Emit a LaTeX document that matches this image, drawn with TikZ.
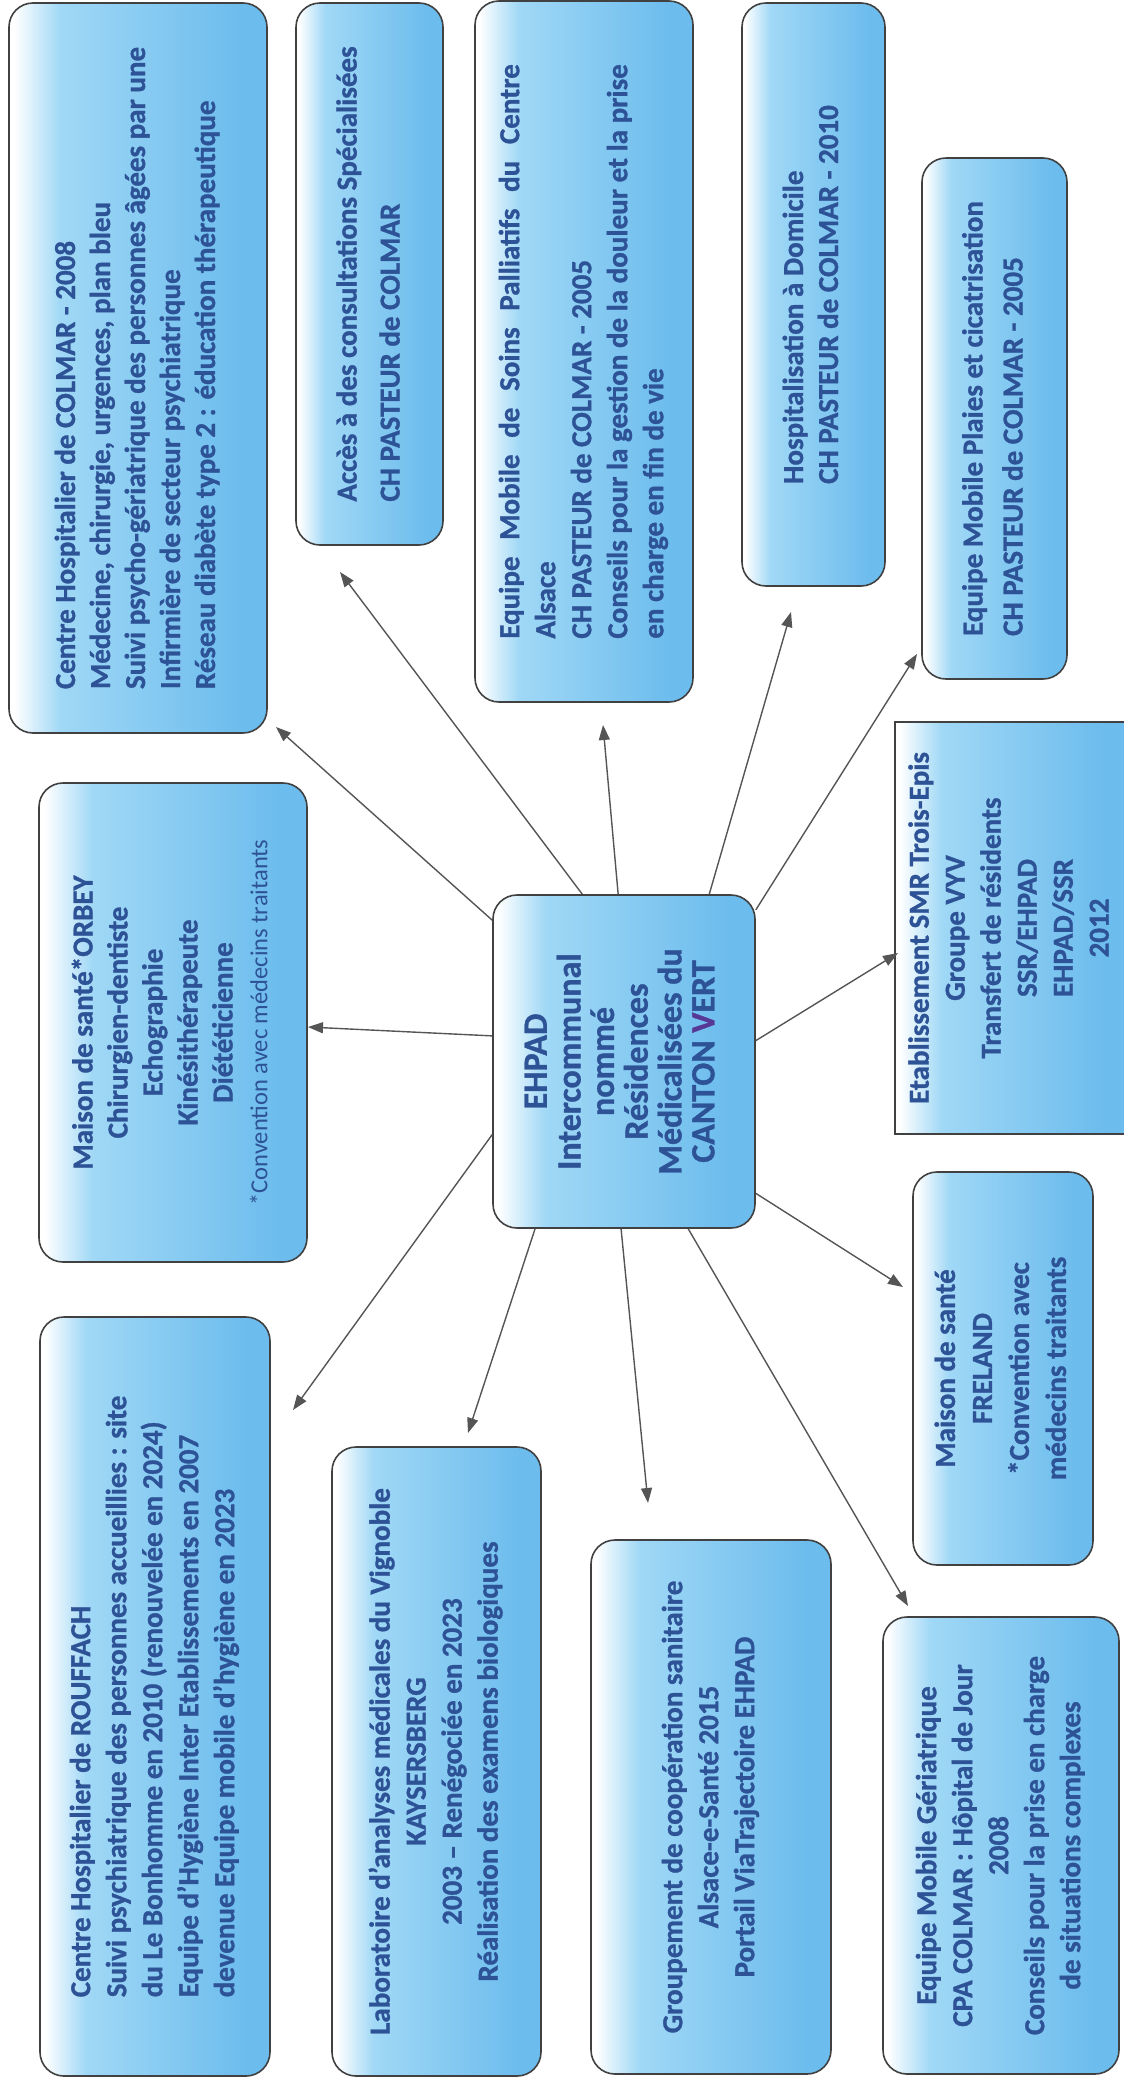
\documentclass[tikz,border=0pt]{standalone}
\usepackage{fontspec}
\setmainfont{Carlito}[BoldFeatures={FakeBold=1}]
\usepackage{graphicx}
\usepackage{xcolor}
\usetikzlibrary{arrows.meta}
\definecolor{textblue}{RGB}{45,82,150}
\definecolor{boxline}{RGB}{65,65,65}
\definecolor{linkgray}{RGB}{85,85,85}
\definecolor{skylight}{RGB}{160,216,246}
\definecolor{skydeep}{RGB}{108,188,237}
\definecolor{vertv}{RGB}{88,56,150}
\pgfdeclarehorizontalshading{skyfill}{100bp}{color(0bp)=(white); color(26bp)=(white); color(35bp)=(skylight); color(70bp)=(skydeep); color(100bp)=(skydeep)}
\newlength{\palwidth}
\newcommand{\vlines}[2]{\rotatebox{90}{\begin{tabular}{@{}#1@{}}#2\end{tabular}}}
\newcommand{\boxfont}{\fontsize{29}{35}\selectfont\bfseries}

\begin{document}
\begin{tikzpicture}[x=1pt, y=-1pt]
            \tikzset{
                partner/.style={draw=boxline, line width=1.6pt, rounded corners=24pt, shading=skyfill, inner sep=0pt, text=textblue, font=\boxfont},
                link/.style={draw=linkgray, line width=1.4pt, ->, >={Triangle[length=15pt, width=11pt]}}
            }
            \useasboundingbox (0,0) rectangle (1124,2086);

            % centre
            \node[partner, minimum width=262pt, minimum height=333pt, font=\fontsize{34}{33}\selectfont\bfseries] (ehpad) at (624, 1061.5) {\vlines{c}{EHPAD\\ Intercommunal\\ nommé\\ Résidences\\ Médicalisées du\\ CANTON {\color{vertv}V}ERT}};

            % top row
            \node[partner, minimum width=258pt, minimum height=730pt] (colmar) at (138, 368) {\vlines{l}{Centre Hospitalier de COLMAR - 2008\\ Médecine, chirurgie, urgences, plan bleu\\ Suivi psycho-gériatrique des personnes âgées par une\\ Infirmière de secteur psychiatrique\\ Réseau diabète type 2 : éducation thérapeutique}};
            \node[partner, minimum width=147pt, minimum height=542pt, font=\fontsize{29}{43}\selectfont\bfseries] (consult) at (369.5, 274) {\vlines{l}{Accès à des consultations Spécialisées\\ CH PASTEUR de COLMAR}};
            \node[partner, minimum width=218pt, minimum height=701pt, font=\fontsize{29}{36}\selectfont\bfseries] (palliatif) at (584, 351.5) {\vlines{l}{\settowidth{\palwidth}{Conseils pour la gestion de la douleur et la prise}\makebox[\palwidth][s]{Equipe Mobile de Soins Palliatifs du Centre}\\ Alsace\\ CH PASTEUR de COLMAR - 2005\\ Conseils pour la gestion de la douleur et la prise\\ en charge en fin de vie}};
            \node[partner, minimum width=143pt, minimum height=583pt] (domicile) at (813.5, 294.5) {\vlines{l}{Hospitalisation à Domicile\\ CH PASTEUR de COLMAR - 2010}};
            \node[partner, minimum width=145pt, minimum height=521pt, font=\fontsize{29}{40}\selectfont\bfseries] (plaies) at (994.5, 418.5) {\vlines{l}{Equipe Mobile Plaies et cicatrisation\\ CH PASTEUR de COLMAR - 2005}};

            % middle row
            \node[partner, minimum width=268pt, minimum height=479pt] (orbey) at (173, 1022.5) {\vlines{c}{Maison de santé*ORBEY\\ Chirurgien-dentiste\\ Echographie\\ Kinésithérapeute\\ Diététicienne\\ {\fontsize{24.5}{30}\selectfont\mdseries *Convention avec médecins traitants}}};
            \node[partner, sharp corners, minimum width=233pt, minimum height=412pt, font=\fontsize{29}{36}\selectfont\bfseries] (smr) at (1011.5, 928) {\vlines{c}{Etablissement SMR Trois-Epis\\ Groupe VYV\\ Transfert de résidents\\ SSR/EHPAD\\ EHPAD/SSR\\ 2012}};
            \node[partner, minimum width=180pt, minimum height=393pt, font=\fontsize{29}{37}\selectfont\bfseries] (freland) at (1003, 1368.5) {\vlines{c}{Maison de santé\\ FRELAND\\ {*}Convention avec\\ médecins traitants}};

            % bottom row
            \node[partner, minimum width=230pt, minimum height=759pt, font=\fontsize{29}{36}\selectfont\bfseries] (rouffach) at (155, 1696.5) {\vlines{l}{Centre Hospitalier de ROUFFACH\\ Suivi psychiatrique des personnes accueillies : site\\ du Le Bonhomme en 2010 (renouvelée en 2024)\\ Equipe d’Hygiène Inter Etablissements en 2007\\ devenue Equipe mobile d’hygiène en 2023}};
            \node[partner, minimum width=209pt, minimum height=629pt, font=\fontsize{29}{36}\selectfont\bfseries] (labo) at (436.5, 1761.5) {\vlines{c}{Laboratoire d’analyses médicales du Vignoble\\ KAYSERSBERG\\ 2003 – Renégociée en 2023\\ Réalisation des examens biologiques}};
            \node[partner, minimum width=240pt, minimum height=534pt, font=\fontsize{29}{36}\selectfont\bfseries] (gcs) at (711, 1807) {\vlines{c}{Groupement de coopération sanitaire\\ Alsace-e-Santé 2015\\ Portail ViaTrajectoire EHPAD}};
            \node[partner, minimum width=236pt, minimum height=457pt, font=\fontsize{29}{36}\selectfont\bfseries] (emg) at (1001, 1845.5) {\vlines{c}{Equipe Mobile Gériatrique\\ CPA COLMAR : Hôpital de Jour\\ 2008\\ Conseils pour la prise en charge\\ de situations complexes}};

            % arrow tips, left short of the boxes
            \coordinate (to-colmar) at (276, 727);
            \coordinate (to-consult) at (340, 572);
            \coordinate (to-palliatif) at (603, 725);
            \coordinate (to-domicile) at (791, 612);
            \coordinate (to-plaies) at (917, 654);
            \coordinate (to-orbey) at (308, 1027);
            \coordinate (to-smr) at (898, 953);
            \coordinate (to-freland) at (903, 1287);
            \coordinate (to-emg) at (908, 1606);
            \coordinate (to-gcs) at (648, 1503);
            \coordinate (to-labo) at (468, 1433);
            \coordinate (to-rouffach) at (293, 1410);

            \draw[link] (ehpad.133)--(to-colmar);
            \draw[link] (ehpad.104)--(to-consult);
            \draw[link] (ehpad.92)--(to-palliatif);
            \draw[link] (ehpad.63)--(to-domicile);
            \draw[link] (ehpad.49)--(to-plaies);
            \draw[link] (ehpad.169)--(to-orbey);
            \draw[link] (ehpad.9)--(to-smr);
            \draw[link] (ehpad.315)--(to-freland);
            \draw[link] (ehpad.291)--(to-emg);
            \draw[link] (ehpad.269)--(to-gcs);
            \draw[link] (ehpad.242)--(to-labo);
            \draw[link] (ehpad.209)--(to-rouffach);
\end{tikzpicture}
\end{document}
